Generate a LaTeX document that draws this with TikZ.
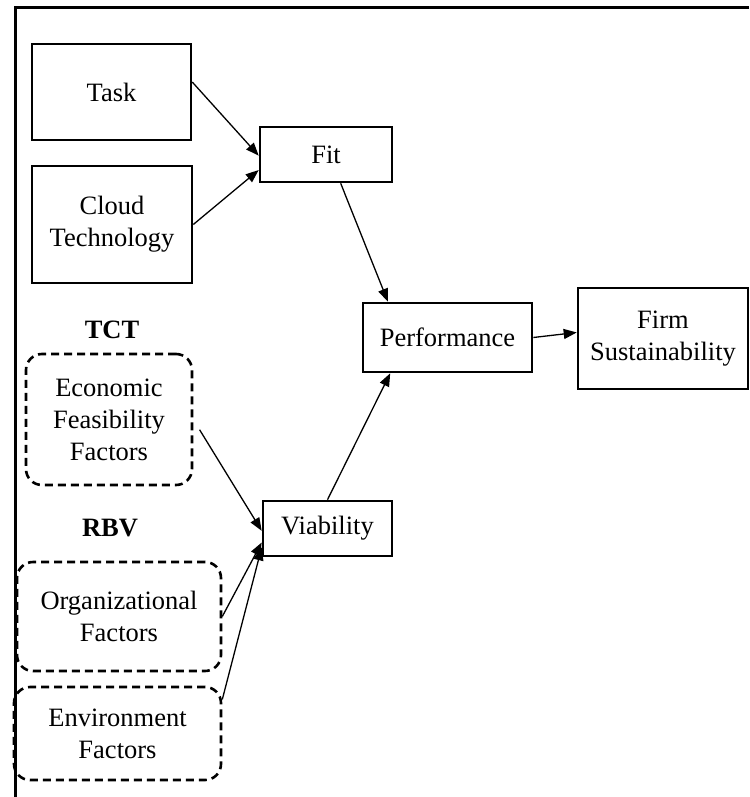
\documentclass[tikz,border=0pt]{standalone}
\usepackage{fontspec}
\setmainfont{Liberation Serif}
\usetikzlibrary{arrows.meta}
\tikzset{
    block/.style = {
        draw,
        shape=rectangle,
        align=center,
        inner sep=0pt,
        line width=2.6pt,
        font=\fontsize{26.5pt}{32pt}\selectfont
    },
    factor/.style = {
        draw,
        shape=rectangle,
        align=center,
        inner sep=0pt,
        rounded corners=16pt,
        dash pattern=on 8pt off 5pt,
        line width=2.6pt,
        font=\fontsize{26.5pt}{32pt}\selectfont
    },
    theory/.style = {
        shape=rectangle,
        inner sep=0pt,
        font=\fontsize{26.5pt}{32pt}\selectfont\bfseries
    },
    link/.style = {
        line width=1.3pt
    },
    >={Triangle[length=13pt,width=10pt]},
}

\begin{document}
\begin{tikzpicture}[x=1pt,y=-1pt]
        \useasboundingbox (0,0) rectangle (749,797);
        \coordinate (frametop) at (749,8);
        \coordinate (framecorner) at (15,8);
        \coordinate (framebottom) at (15,797);
        \path[draw, line width=3pt] (frametop) -- (framecorner) -- (framebottom);

        \node[block, minimum width=159pt, minimum height=96pt] (task) at (111.5,92) {Task};
        \node[block, minimum width=160pt, minimum height=117pt] (cloud) at (112,224.5) {Cloud\\Technology};
        \node[block, minimum width=132pt, minimum height=55pt] (fit) at (326,154.5) {Fit};
        \node[block, minimum width=169pt, minimum height=69pt] (performance) at (447.5,337.5) {Performance};
        \node[block, minimum width=170pt, minimum height=101pt] (firm) at (663,338.5) {Firm\\Sustainability};
        \node[block, minimum width=129pt, minimum height=55pt] (viability) at (327.5,528.5) {Viability};

        \node[theory] (tct) at (112,330) {TCT};
        \node[factor, minimum width=166pt, minimum height=131pt] (economic) at (109,419.5) {Economic\\Feasibility\\Factors};
        \node[theory] (rbv) at (110,528) {RBV};
        \node[factor, minimum width=204pt, minimum height=109pt] (organizational) at (119,616.5) {Organizational\\Factors};
        \node[factor, minimum width=207pt, minimum height=93pt] (environment) at (117.5,733.5) {Environment\\Factors};

        \path[draw, ->, link] (task.7) -- (fit.181);
        \path[draw, ->, link] (cloud.east) -- (fit.193);
        \path[draw, ->, link] (fit.297) -- (performance.149);
        \path[draw, ->, link] (viability.north) -- (performance.212);
        \path[draw, ->, link] (performance.east) -- (firm.176);

        \path[draw, ->, link, shorten <=12pt] (economic.east) -- (viability.182);
        \path[draw, ->, link] (organizational.east) -- (viability.192);
        \path[draw, ->, link] (environment.18) -- (viability.196);
    \end{tikzpicture}
\end{document}
